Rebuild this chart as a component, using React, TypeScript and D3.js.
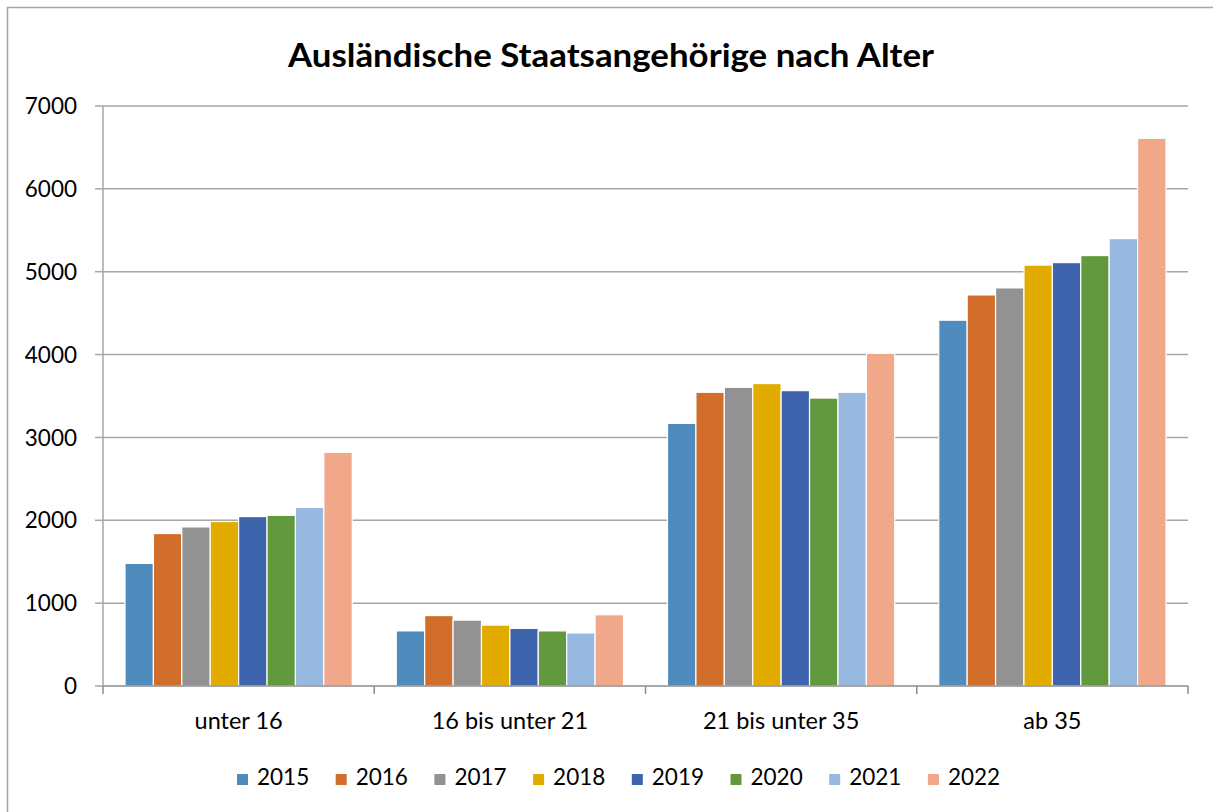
import React, { useEffect, useRef } from 'react';
import * as d3 from 'd3';

// Kategorien (Altersgruppen) und Jahre
const categories = ['unter 16', '16 bis unter 21', '21 bis unter 35', 'ab 35'];
const years = ['2015', '2016', '2017', '2018', '2019', '2020', '2021', '2022'];

// Werte je Jahr, Reihenfolge wie categories
const v2015 = [1480, 665, 3170, 4415];
const v2016 = [1840, 850, 3545, 4720];
const v2017 = [1920, 795, 3605, 4805];
const v2018 = [1985, 735, 3650, 5080];
const v2019 = [2045, 695, 3565, 5110];
const v2020 = [2060, 665, 3475, 5195];
const v2021 = [2155, 640, 3545, 5400];
const v2022 = [2820, 860, 4015, 6610];

const yTicks = [0, 1000, 2000, 3000, 4000, 5000, 6000, 7000];
const colors = ['#508BBE', '#D26E2B', '#929292', '#E1AB00', '#3D64AC', '#63993E', '#98B9DF', '#F1A789'];

const App = () => {
  const ref = useRef<SVGSVGElement>(null);

  useEffect(() => {
    const seriesValues = [v2015, v2016, v2017, v2018, v2019, v2020, v2021, v2022];
    const svg = d3.select(ref.current);
    svg.selectAll('*').remove();

    const width = 1213;
    const height = 812;
    const font = 'Lato, "Open Sans", sans-serif';
    const left = 103, right = 1188, top = 106, bottom = 686;

    svg.attr('width', width).attr('height', height);

    // Rahmen
    svg.append('rect')
      .attr('x', 7.5).attr('y', 7.5)
      .attr('width', 1220).attr('height', 820)
      .attr('fill', 'white')
      .attr('stroke', '#A6A6A6')
      .attr('stroke-width', 1.5);

    // Titel
    svg.append('text')
      .attr('x', 611).attr('y', 67)
      .attr('text-anchor', 'middle')
      .attr('font-family', font)
      .attr('font-weight', 'bold')
      .attr('font-size', 33)
      .attr('textLength', 646)
      .attr('lengthAdjust', 'spacingAndGlyphs')
      .text('Ausländische Staatsangehörige nach Alter');

    const y = d3.scaleLinear().domain([0, 7000]).range([bottom, top]);
    const x0 = d3.scaleBand().domain(categories).range([left, right]).padding(0);
    const gap = 22;
    const x1 = d3.scaleBand().domain(years).range([gap, x0.bandwidth() - gap]).padding(0);

    // Gitterlinien
    svg.append('g').selectAll('line')
      .data(yTicks.filter(t => t > 0))
      .enter()
      .append('line')
      .attr('x1', left).attr('x2', right)
      .attr('y1', d => y(d)).attr('y2', d => y(d))
      .attr('stroke', '#A6A6A6')
      .attr('stroke-width', 1.5);

    // Y-Achse
    svg.append('line')
      .attr('x1', left).attr('x2', left)
      .attr('y1', top).attr('y2', bottom)
      .attr('stroke', '#A6A6A6').attr('stroke-width', 1.5);
    svg.append('g').selectAll('line')
      .data(yTicks)
      .enter()
      .append('line')
      .attr('x1', left - 8).attr('x2', left)
      .attr('y1', d => y(d)).attr('y2', d => y(d))
      .attr('stroke', '#A6A6A6').attr('stroke-width', 1.5);
    svg.append('g').selectAll('text')
      .data(yTicks)
      .enter()
      .append('text')
      .attr('x', 77)
      .attr('y', d => y(d))
      .attr('dy', '0.36em')
      .attr('text-anchor', 'end')
      .attr('font-family', font)
      .attr('font-size', 22.5)
      .attr('fill', '#000')
      .text(d => String(d));

    // Balken
    const groups = svg.append('g').selectAll('g')
      .data(categories)
      .enter()
      .append('g')
      .attr('transform', d => `translate(${x0(d)},0)`);

    groups.selectAll('rect')
      .data((c, ci) => years.map((yr, si) => ({ yr, si, value: seriesValues[si][ci] })))
      .enter()
      .append('rect')
      .attr('x', d => x1(d.yr) as number)
      .attr('width', x1.bandwidth())
      .attr('y', d => y(d.value))
      .attr('height', d => bottom - y(d.value))
      .attr('fill', d => colors[d.si])
      .attr('stroke', 'white')
      .attr('stroke-width', 1.2);

    // X-Achse
    svg.append('line')
      .attr('x1', left).attr('x2', right)
      .attr('y1', bottom).attr('y2', bottom)
      .attr('stroke', '#8C8C8C').attr('stroke-width', 1.5);
    const bounds = categories.map(c => x0(c) as number).concat([right]);
    svg.append('g').selectAll('line')
      .data(bounds)
      .enter()
      .append('line')
      .attr('x1', d => d).attr('x2', d => d)
      .attr('y1', bottom).attr('y2', bottom + 8)
      .attr('stroke', '#8C8C8C').attr('stroke-width', 1.5);
    svg.append('g').selectAll('text')
      .data(categories)
      .enter()
      .append('text')
      .attr('x', d => (x0(d) as number) + x0.bandwidth() / 2)
      .attr('y', 729)
      .attr('text-anchor', 'middle')
      .attr('font-family', font)
      .attr('font-size', 23.5)
      .attr('fill', '#000')
      .text(d => d);

    // Legende
    const legend = svg.append('g').selectAll('g')
      .data(years)
      .enter()
      .append('g')
      .attr('transform', (d, i) => `translate(${237 + i * 98.7},0)`);
    legend.append('rect')
      .attr('x', 0).attr('y', 774)
      .attr('width', 11).attr('height', 11)
      .attr('fill', (d, i) => colors[i]);
    legend.append('text')
      .attr('x', 20).attr('y', 785)
      .attr('font-family', font)
      .attr('font-size', 22.5)
      .attr('fill', '#000')
      .text(d => d);
  }, []);

  return (
    <div style={{ position: 'absolute', left: 0, top: 0 }}>
      <svg ref={ref}></svg>
    </div>
  );
};

export default App;
